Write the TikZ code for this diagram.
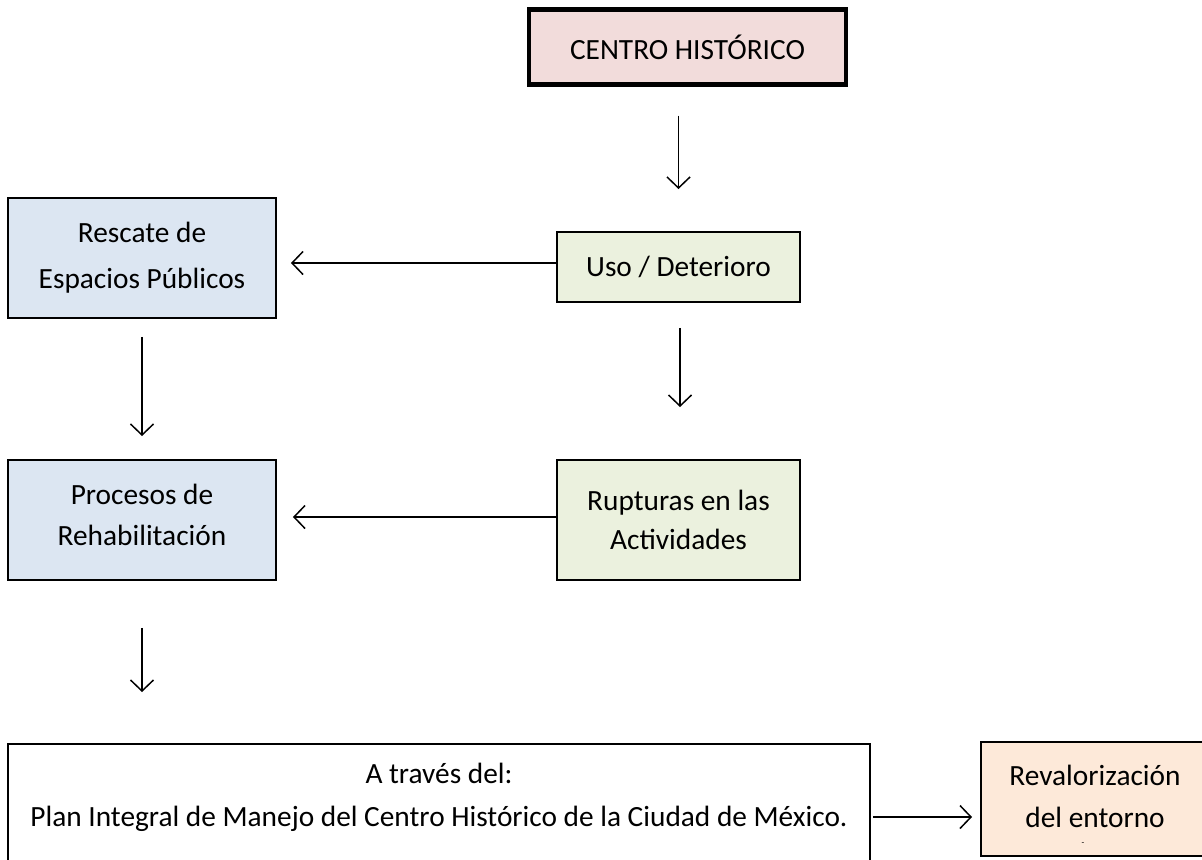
\documentclass[tikz,border=0pt]{standalone}
\usepackage{fontspec}
\setmainfont{Carlito}
\usetikzlibrary{arrows.meta,positioning}
\definecolor{rosa}{HTML}{F2DCDB}
\definecolor{verde}{HTML}{EBF1DE}
\definecolor{azul}{HTML}{DCE6F2}
\definecolor{durazno}{HTML}{FDE9D9}
\tikzset{
  caja/.style={draw=black, line width=0.4mm, align=center, inner sep=0pt,
    font=\fontsize{16.7}{23}\selectfont},
  flecha/.style={line width=0.3mm, -{Straight Barb[length=2.2mm,width=4.6mm,line width=0.3mm]}},
}
\begin{document}
\begin{tikzpicture}[x=0.02cm, y=-0.02cm]
			%%%%% START %%%%%
			\useasboundingbox (0, 0) rectangle (1202, 859);
			
			\node[caja, fill=rosa, line width=0.9mm, minimum width=63.4mm, minimum height=15mm] (centro) at (687.5, 47) {CENTRO HISTÓRICO};
			
			\node[caja, fill=verde, minimum width=48.6mm, minimum height=14mm] (uso) at (678.5, 267) {Uso / Deterioro};
			\node[caja, fill=verde, minimum width=48.6mm, minimum height=24mm, font=\fontsize{16.7}{22}\selectfont] (rupturas) at (678.5, 520) {Rupturas en las\\Actividades};
			
			\node[caja, fill=azul, minimum width=53.6mm, minimum height=24mm] (rescate) at (142, 258) {Rescate de\\[3pt]Espacios Públicos};
			\node[caja, fill=azul, minimum width=53.6mm, minimum height=24mm, text depth=2mm] (procesos) at (142, 520) {Procesos de\\Rehabilitación};
			
			\node[caja, minimum width=172.4mm, minimum height=24.4mm, text depth=4mm, font=\fontsize{16.7}{24.5}\selectfont] (plan) at (439, 805) {A través del:\\Plan Integral de Manejo del Centro Histórico de la Ciudad de México.};
			% la caja sigue fuera del borde derecho
			\node[caja, draw=none, fill=durazno, minimum width=45.2mm, minimum height=22.4mm, text depth=1mm, font=\fontsize{16.7}{24}\selectfont] (reval) at (1095, 799) {Revalorización\\del entorno};
			\draw[line width=0.4mm] (reval.north east) -- (reval.north west) -- (reval.south west) -- (reval.south east);
			\node[font=\fontsize{5}{5}\selectfont, inner sep=0pt] (punto) at (1083, 844) {-};
			
			%%%%% FLECHAS %%%%%
			\draw[flecha, shorten <=5.8mm, shorten >=8.4mm] (centro.south -| uso.north) -- (uso.north);
			\draw[flecha, shorten >=2.8mm] ([yshift=0.8mm]uso.west) -- ([yshift=0.8mm]uso.west -| rescate.east);
			\draw[flecha, shorten <=5mm, shorten >=10.4mm] ([xshift=0.3mm]uso.south) -- ([xshift=0.3mm]uso.south |- rupturas.north);
			\draw[flecha, shorten <=3.6mm, shorten >=4.6mm] (rescate.south) -- (procesos.north);
			\draw[flecha, shorten >=3.2mm] ([yshift=0.6mm]rupturas.west) -- ([yshift=0.6mm]rupturas.west -| procesos.east);
			\draw[flecha, shorten <=9.4mm, shorten >=10.2mm] (procesos.south) -- (procesos.south |- plan.north);
			\draw[flecha, shorten <=0.4mm, shorten >=1.8mm] ([yshift=-3.6mm]reval.west -| plan.east) -- ([yshift=-3.6mm]reval.west);
			
			%%%%% END %%%%%
\end{tikzpicture}
\end{document}
